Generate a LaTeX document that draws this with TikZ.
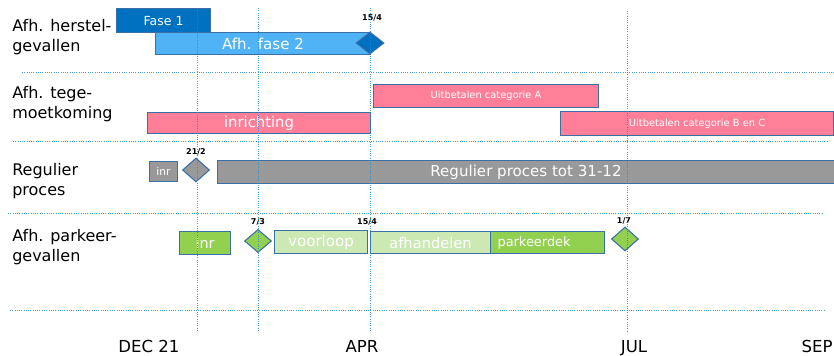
\documentclass[tikz,border=0pt]{standalone}
\usepackage{fontspec}
\setmainfont{DejaVu Sans}
\usepackage{tikz}
\usetikzlibrary{shapes.geometric}
\usetikzlibrary{positioning}
\definecolor{fasedonker}{HTML}{0070C0}
\definecolor{faselicht}{HTML}{4FB3F6}
\definecolor{roze}{HTML}{FF7F98}
\definecolor{grijs}{HTML}{999999}
\definecolor{groen}{HTML}{92D050}
\definecolor{lichtgroen}{HTML}{CCE8B3}
\definecolor{rand}{HTML}{3A6FA8}
\definecolor{rooster}{HTML}{1F8AE0}
\newcommand{\fs}[1]{\fontsize{#1}{#1}\selectfont}
\tikzset{
	balk/.style={draw=rand, line width=0.8pt, text=white, inner sep=0pt, anchor=north west},
	maat/.style 2 args={minimum width=#1*0.75pt, minimum height=#2*0.75pt},
	mijlpaal/.style={diamond, draw=rand, line width=0.8pt, inner sep=0pt},
	datum/.style={font=\bfseries\fs{6}, inner sep=0pt},
	rij/.style={align=left, anchor=west, inner sep=0pt, font=\fontsize{12}{15}\selectfont},
	maand/.style={font=\fs{12.4}, inner sep=0pt, anchor=base},
	lijn/.style={rooster, densely dotted, line width=0.7pt, opacity=0.85}
}

\begin{document}
\begin{tikzpicture}[x=0.75pt, y=-0.75pt]
	\useasboundingbox (0,0) rectangle (834,356);
	% rij labels
	\node[rij] (rij1) at (12,37) {Afh. herstel-\\gevallen};
	\node[rij] (rij2) at (12,104.5) {Afh. tege-\\moetkoming};
	\node[rij] (rij3) at (12,181) {Regulier\\proces};
	\node[rij] (rij4) at (12,247.5) {Afh. parkeer-\\gevallen};
	% herstelgevallen
	\node[balk, fill=faselicht, maat={215}{22}, font=\fs{11.3}] (fase2) at (155,32) {Afh. fase 2};
	\node[balk, fill=fasedonker, maat={94}{24}, font=\fs{9.4}] (fase1) at (116,8) {Fase 1};
	\node[mijlpaal, fill=fasedonker, minimum width=28*0.75pt, minimum height=22*0.75pt] (m154) at (370,43) {};
	\node[datum] (d154) at (372,18) {15/4};
	% tegemoetkoming
	\node[balk, fill=roze, maat={225}{23}, font=\fs{7.4}] (catA) at (373,84) {Uitbetalen categorie A};
	\node[balk, fill=roze, maat={223}{21}, font=\fs{11.1}] (inrichting) at (147,112) {inrichting};
	\node[balk, fill=roze, maat={273}{24}, font=\fs{7.4}] (catBC) at (560,111) {Uitbetalen categorie B en C};
	% regulier proces
	\node[balk, fill=grijs, maat={28}{20}, font=\fs{8}] (reginr) at (149,161) {inr};
	\node[mijlpaal, fill=grijs, minimum width=27*0.75pt, minimum height=24*0.75pt] (m212) at (196,170) {};
	\node[datum] (d212) at (196,152) {21/2};
	\node[balk, fill=grijs, maat={617}{23}, font=\fs{11.3}] (regulier) at (217,160) {Regulier proces tot 31-12};
	% parkeergevallen
	\node[balk, fill=groen, maat={51}{23}, font=\fs{10.8}] (parkinr) at (179,231) {inr};
	\node[mijlpaal, fill=groen, minimum width=27*0.75pt, minimum height=23*0.75pt] (m73) at (258,241) {};
	\node[datum] (d73) at (258,222) {7/3};
	\node[balk, fill=lichtgroen, maat={93}{23}, font=\fs{11.3}] (voorloop) at (274,230) {voorloop};
	\node[datum] (d154b) at (367,222) {15/4};
	\node[balk, fill=lichtgroen, maat={120}{22}, font=\fs{11}] (afhandelen) at (370,231) {afhandelen};
	\node[balk, fill=groen, minimum height=22*0.75pt, text width=100*0.75pt, align=left, inner xsep=7*0.75pt, font=\fs{9.7}] (parkeerdek) at (490,231) {parkeerdek};
	\node[mijlpaal, fill=groen, minimum width=27*0.75pt, minimum height=24*0.75pt] (m17) at (625,239) {};
	\node[datum] (d17) at (624,221) {1/7};
	% rooster
	\draw[lijn] (22,72) -- (834,72);
	\draw[lijn] (13,141) -- (828,141);
	\draw[lijn] (8,213) -- (824,213);
	\draw[lijn] (10,310) -- (826,310);
	\draw[lijn] (197,8) -- (197,331);
	\draw[lijn] (258,8) -- (258,331);
	\draw[lijn] (370,8) -- (370,331);
	\draw[lijn] (627,11) -- (627,331);
	% maanden
	\node[maand] (dec) at (149,352) {DEC 21};
	\node[maand] (apr) at (362,352) {APR};
	\node[maand] (jul) at (634,352) {JUL};
	\node[maand] (sep) at (817,352) {SEP};
\end{tikzpicture}
\end{document}
